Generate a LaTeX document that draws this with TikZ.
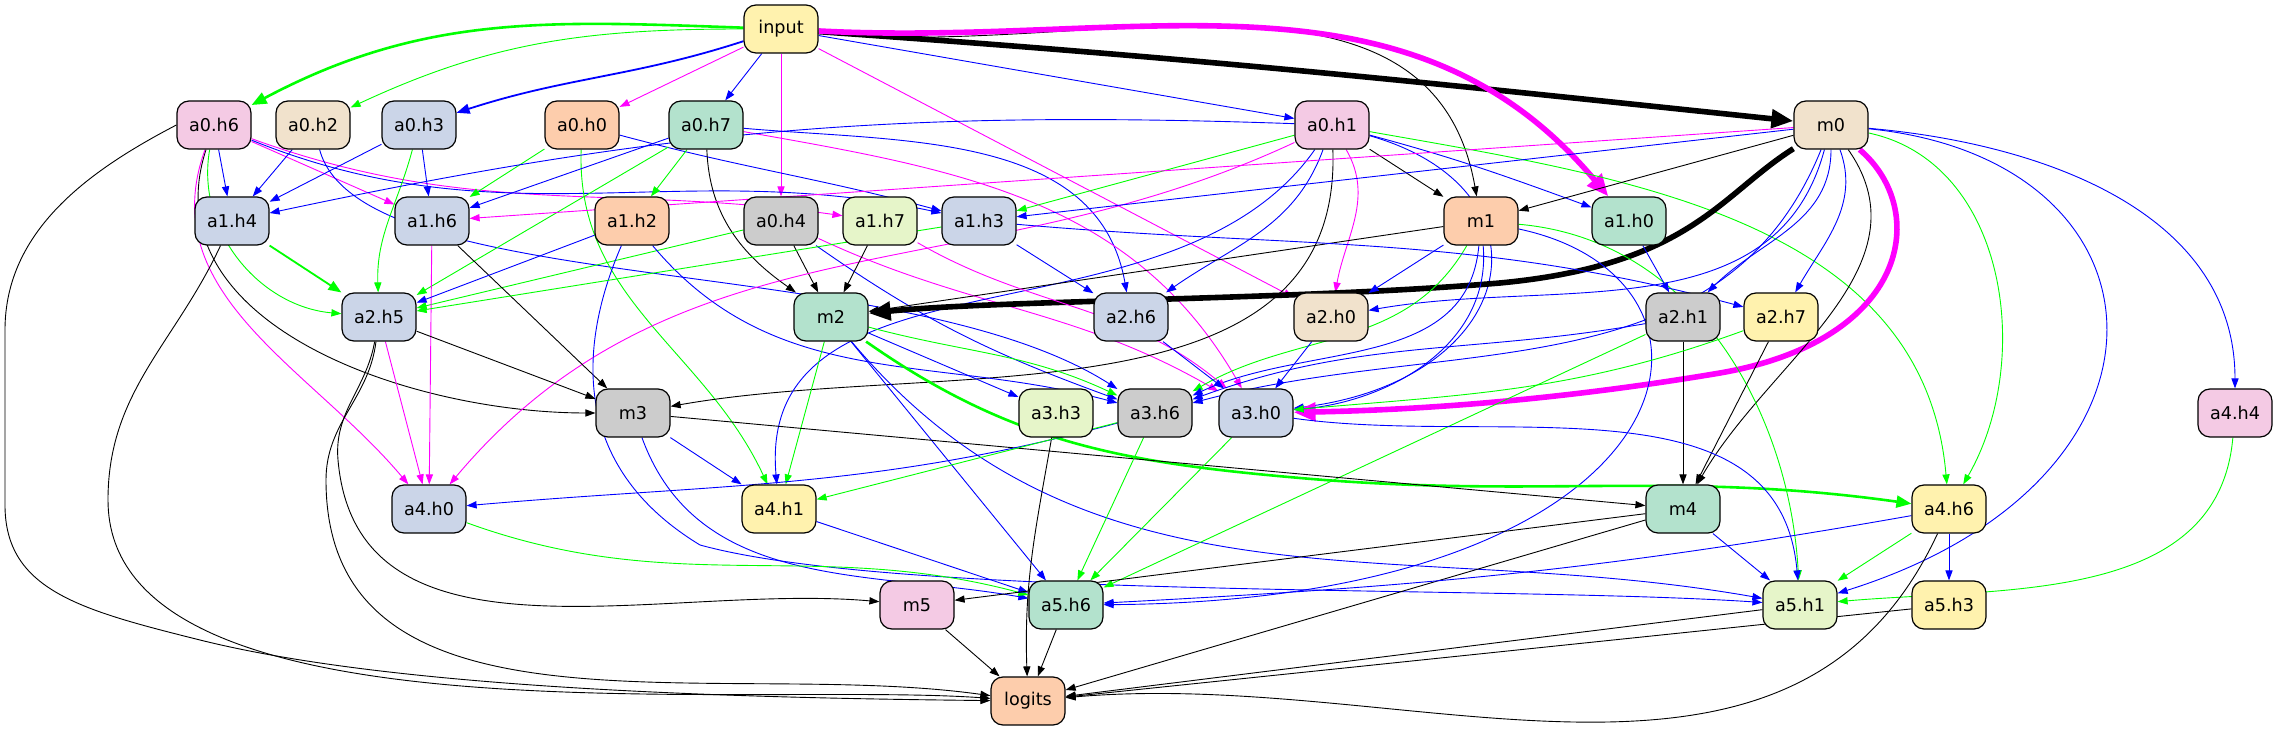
\documentclass[tikz,border=0pt]{standalone}
\usepackage{fontspec}
\setmainfont{DejaVu Sans}
\usetikzlibrary{arrows.meta}
\definecolor{pY}{HTML}{FFF2AE}
\definecolor{pG}{HTML}{B3E2CD}
\definecolor{pO}{HTML}{FDCDAC}
\definecolor{pB}{HTML}{CBD5E8}
\definecolor{pP}{HTML}{F4CAE4}
\definecolor{pL}{HTML}{E6F5C9}
\definecolor{pE}{HTML}{F1E2CC}
\definecolor{pK}{HTML}{CCCCCC}
\definecolor{eG}{HTML}{00FF00}
\definecolor{eB}{HTML}{0000FF}
\definecolor{eM}{HTML}{FF00FF}
\pgfdeclarelayer{bg}
\pgfsetlayers{bg,main}
\tikzset{
  box/.style={draw, rounded corners=6pt, minimum width=37pt, minimum height=24pt,
    line width=0.6pt, inner sep=1pt, font=\fontsize{8.8}{10}\selectfont},
  link/.style={line width=0.45pt, -{Triangle[length=5pt,width=3.6pt]}},
  gr/.style={link, draw=eG},
  bl/.style={link, draw=eB},
  mg/.style={link, draw=eM},
  bk/.style={link, draw=black},
  w2/.style={line width=0.9pt, -{Triangle[length=6.5pt,width=5pt]}},
  w3/.style={line width=1.3pt, -{Triangle[length=7.5pt,width=6pt]}},
  fat/.style={line width=2.8pt, -{Triangle[length=11pt,width=9pt]}}
}
\begin{document}
\begin{tikzpicture}[x=0.5pt,y=0.5pt]
\useasboundingbox (0,0) rectangle (2277,-731);
% nodes: name/label/x/y/fill
\foreach \n/\t/\x/\y/\c in {
  input/input/781/29/pY,
  a0h6/a0.h6/214/125/pP, a0h2/a0.h2/313/125/pE, a0h3/a0.h3/419/125/pB,
  a0h0/a0.h0/582/125/pO, a0h7/a0.h7/706/125/pG, a0h1/a0.h1/1332/125/pP,
  m0/m0/1831/125/pE,
  a1h4/a1.h4/232/221/pB, a1h6/a1.h6/432/221/pB, a1h2/a1.h2/632/221/pO,
  a0h4/a0.h4/781/221/pK, a1h7/a1.h7/880/221/pL, a1h3/a1.h3/979/221/pB,
  m1/m1/1481/221/pO, a1h0/a1.h0/1629/221/pG,
  a2h5/a2.h5/379/317/pB, m2/m2/831/317/pG, a2h6/a2.h6/1131/317/pB,
  a2h0/a2.h0/1331/317/pE, a2h1/a2.h1/1683/317/pK, a2h7/a2.h7/1781/317/pY,
  m3/m3/633/413/pK, a3h3/a3.h3/1056/413/pL, a3h6/a3.h6/1155/413/pK,
  a3h0/a3.h0/1256/413/pB, a4h4/a4.h4/2235/413/pP,
  a4h0/a4.h0/429/509/pB, a4h1/a4.h1/779/509/pY, m4/m4/1683/509/pG,
  a4h6/a4.h6/1949/509/pY,
  m5/m5/917/605/pP, a5h6/a5.h6/1066/605/pG, a5h1/a5.h1/1800/605/pL,
  a5h3/a5.h3/1949/605/pY,
  logits/logits/1028/701/pO}
  \node[box, fill=\c] (\n) at (\x,-\y) {\t};
\begin{pgfonlayer}{bg}
% input
\draw[gr,w3] (input) to[out=178,in=28] (a0h6);
\draw[gr] (input) to[out=180,in=25] (a0h2);
\draw[bl,w2] (input) to[out=198,in=18] (a0h3);
\draw[mg] (input) -- (a0h0);
\draw[bl] (input) -- (a0h7);
\draw[mg] (input) -- (a0h4);
\draw[bl] (input) -- (a0h1);
\draw[mg] (input) -- (a2h0);
\draw[bk] (input) to[out=-6,in=100] (m1);
\draw[bk,fat] (input) to[out=-4,in=174] (m0);
\draw[mg,fat] (input) to[out=-3,in=130] (a1h0);
% layer 0
\draw[bl] (a0h6) -- (a1h4);
\draw[mg] (a0h6) -- (a1h6);
\draw[mg] (a0h6) to[out=-20,in=172] (a1h7);
\draw[bl] (a0h6) to[out=-22,in=168] (a1h3);
\draw[gr] (a0h6) to[out=-100,in=175] (a2h5);
\draw[bk] (a0h6) to[out=-108,in=180] (m3);
\draw[mg] (a0h6) to[out=-110,in=130] (a4h0);
\draw[bk] (a0h6.west) .. controls (90,-170) and (5,-230) .. (5,-330) -- (5,-505)
  .. controls (5,-590) and (80,-610) .. (200,-640)
  .. controls (400,-690) and (750,-698) .. (logits);
\draw[bl] (a0h2) -- (a1h4);
\draw[bl] (a0h2) .. controls (360,-300) and (900,-250) .. (a3h6);
\draw[bl] (a0h3) -- (a1h4);
\draw[bl] (a0h3) -- (a1h6);
\draw[gr] (a0h3) to[out=-105,in=92] (a2h5);
\draw[gr] (a0h0) -- (a1h6);
\draw[bl] (a0h0) to[out=-15,in=165] (a1h3);
\draw[gr] (a0h0) to[out=-92,in=115] (a4h1);
\draw[bl] (a0h7) -- (a1h6);
\draw[gr] (a0h7) -- (a1h2);
\draw[gr] (a0h7) -- (a2h5);
\draw[bk] (a0h7) to[out=-88,in=145] (m2);
\draw[bl] (a0h7) to[out=-5,in=100] (a2h6);
\draw[mg] (a0h7) to[out=-10,in=120] (a3h0);
\draw[bk] (a0h4) -- (m2);
\draw[gr] (a0h4) -- (a2h5);
\draw[bl] (a0h4) to[out=-35,in=160] (a3h6);
\draw[mg] (a0h4) to[out=-25,in=150] (a3h0);
\draw[bl] (a0h1) to[out=178,in=12] (a1h4);
\draw[gr] (a0h1) -- (a1h3);
\draw[bk] (a0h1) -- (m1);
\draw[bl] (a0h1) to[out=-15,in=160] (a1h0);
\draw[bl] (a0h1) to[out=-110,in=35] (a2h6);
\draw[mg] (a0h1) to[out=-60,in=80] (a2h0);
\draw[bk] (a0h1) to[out=-88,in=10] (m3);
\draw[mg] (a0h1) to[out=-155,in=50] (a4h0);
\draw[bl] (a0h1) to[out=-125,in=95] (a4h1);
\draw[bl] (a0h1) .. controls (1560,-190) and (1520,-380) .. (a3h0);
\draw[gr] (a0h1) to[out=-10,in=95] (a4h6);
\draw[bk] (m0) -- (m1);
\draw[bk,fat] (m0) .. controls (1720,-195) and (1690,-265) .. (1500,-283)
  .. controls (1300,-300) and (1000,-300) .. (m2);
\draw[mg] (m0) -- (a1h6);
\draw[bl] (m0) -- (a1h3);
\draw[bl] (m0) to[out=-105,in=10] (a2h0);
\draw[bl] (m0) to[out=-90,in=45] (a2h1);
\draw[bl] (m0) to[out=-70,in=60] (a2h7);
\draw[bl] (m0) to[out=-112,in=15] (a3h6);
\draw[mg,fat] (m0) .. controls (1930,-210) and (1910,-340) .. (1720,-373)
  .. controls (1560,-400) and (1420,-410) .. (a3h0);
\draw[bk] (m0) to[out=-55,in=60] (m4);
\draw[gr] (m0) to[out=-12,in=60] (a4h6);
\draw[bl] (m0) .. controls (2180,-160) and (2200,-480) .. (a5h1);
\draw[bl] (m0) to[out=-5,in=90] (a4h4);
% layer 1
\draw[bk] (m1) -- (m2);
\draw[bl] (m1) -- (a2h0);
\draw[gr] (m1) to[out=-120,in=30] (a3h6);
\draw[bl] (m1) to[out=-95,in=25] (a3h6);
\draw[bl] (m1) to[out=-85,in=5] (a3h0);
\draw[bl] (m1) .. controls (1760,-280) and (1700,-600) .. (a5h6);
\draw[gr] (m1) .. controls (1700,-240) and (1790,-420) .. (a5h1);
\draw[bl] (a1h0) -- (a2h1);
\draw[gr,w2] (a1h4) -- (a2h5);
\draw[bk] (a1h4) to[out=-115,in=90] (108,-500) to[out=-90,in=176,looseness=0.7] (logits);
\draw[bk] (a1h6) -- (m3);
\draw[mg] (a1h6) -- (a4h0);
\draw[bl] (a1h2) -- (a2h5);
\draw[bl] (a1h2) to[out=-50,in=165] (a3h6);
\draw[bl] (a1h2) .. controls (585,-330) and (560,-460) .. (700,-545)
  .. controls (900,-600) and (1500,-585) .. (a5h1);
\draw[bk] (a1h7) -- (m2);
\draw[mg] (a1h7) to[out=-30,in=140] (a3h0);
\draw[bl] (a1h3) -- (a2h6);
\draw[bl] (a1h3) to[out=-5,in=165] (a2h7);
\draw[gr] (a1h3) -- (a2h5);
% layer 2
\draw[bk] (a2h5) -- (m3);
\draw[mg] (a2h5) -- (a4h0);
\draw[bk] (a2h5) to[out=-100,in=95] (338,-460) to[out=-85,in=175] (m5);
\draw[bk] (a2h5) to[out=-97,in=90] (326,-480) to[out=-90,in=172] (logits);
\draw[bl] (m2) -- (a3h3);
\draw[gr] (m2) to[out=-15,in=155] (a3h6);
\draw[gr] (m2) -- (a4h1);
\draw[gr,w3] (m2) to[out=-35,in=175] (1300,-478) to[out=-5,in=172] (a4h6);
\draw[bl] (m2) -- (a5h6);
\draw[bl] (m2) to[out=-50,in=170] (a5h1);
\draw[bl] (a2h6) -- (a3h0);
\draw[bl] (a2h0) -- (a3h0);
\draw[bl] (a2h1) to[out=190,in=20] (a3h6);
\draw[bk] (a2h1) -- (m4);
\draw[gr] (a2h1) -- (a5h6);
\draw[bk] (a2h7) -- (m4);
\draw[gr] (a2h7) to[out=200,in=5] (a3h0);
% layer 3
\draw[bl] (m3) -- (a4h1);
\draw[bl] (m3) to[out=-70,in=170] (a5h6);
\draw[bk] (m3) -- (m4);
\draw[bk] (a3h3) to[out=-100,in=92] (logits);
\draw[bl] (a3h6) to[out=-165,in=5] (a4h0);
\draw[gr] (a3h6) -- (a4h1);
\draw[gr] (a3h6) -- (a5h6);
\draw[gr] (a3h0) -- (a5h6);
\draw[bl] (a3h0) to[out=-8,in=95] (a5h1);
% layer 4
\draw[gr] (a4h4) to[out=-95,in=5] (a5h1);
\draw[gr] (a4h0) to[out=-20,in=165] (a5h6);
\draw[bl] (a4h1) -- (a5h6);
\draw[bk] (m4) -- (m5);
\draw[bk] (m4) -- (logits);
\draw[bl] (m4) -- (a5h1);
\draw[bl] (a4h6) to[out=190,in=3] (a5h6);
\draw[gr] (a4h6) -- (a5h1);
\draw[bl] (a4h6) -- (a5h3);
\draw[bk] (a4h6) to[out=-115,in=5] (logits);
% layer 5
\foreach \s in {m5,a5h6,a5h1,a5h3}
  \draw[bk] (\s) -- (logits);
\end{pgfonlayer}
\end{tikzpicture}
\end{document}
